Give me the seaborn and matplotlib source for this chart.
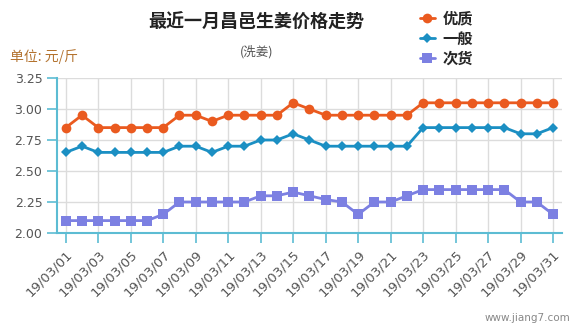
import matplotlib
matplotlib.use("Agg")
import matplotlib.pyplot as plt
import seaborn as sns
import pandas as pd

dates = ["19/03/01", "19/03/02", "19/03/03", "19/03/04", "19/03/05", "19/03/06",
         "19/03/07", "19/03/08", "19/03/09", "19/03/10", "19/03/11", "19/03/12",
         "19/03/13", "19/03/14", "19/03/15", "19/03/16", "19/03/17", "19/03/18",
         "19/03/19", "19/03/20", "19/03/21", "19/03/22", "19/03/23", "19/03/24",
         "19/03/25", "19/03/26", "19/03/27", "19/03/28", "19/03/29", "19/03/30",
         "19/03/31"]
youzhi = [2.85, 2.95, 2.85, 2.85, 2.85, 2.85, 2.85, 2.95, 2.95, 2.90, 2.95, 2.95,
          2.95, 2.95, 3.05, 3.00, 2.95, 2.95, 2.95, 2.95, 2.95, 2.95, 3.05, 3.05,
          3.05, 3.05, 3.05, 3.05, 3.05, 3.05, 3.05]
yiban = [2.65, 2.70, 2.65, 2.65, 2.65, 2.65, 2.65, 2.70, 2.70, 2.65, 2.70, 2.70,
         2.75, 2.75, 2.80, 2.75, 2.70, 2.70, 2.70, 2.70, 2.70, 2.70, 2.85, 2.85,
         2.85, 2.85, 2.85, 2.85, 2.80, 2.80, 2.85]
cihuo = [2.10, 2.10, 2.10, 2.10, 2.10, 2.10, 2.15, 2.25, 2.25, 2.25, 2.25, 2.25,
         2.30, 2.30, 2.33, 2.30, 2.27, 2.25, 2.15, 2.25, 2.25, 2.30, 2.35, 2.35,
         2.35, 2.35, 2.35, 2.35, 2.25, 2.25, 2.15]
series_names = ["优质", "一般", "次货"]
yticks = [2.00, 2.25, 2.50, 2.75, 3.00, 3.25]

colors = {"优质": "#ea5a1f", "一般": "#1b8fc3", "次货": "#7c80e2"}
markers = {"优质": "o", "一般": "D", "次货": "s"}
msizes = {"优质": 7.0, "一般": 5.0, "次货": 6.8}
axis_col = "#5cbcd3"
grid_col = "#dcdcdc"

sns.set_style("white")
plt.rcParams["font.family"] = ["Noto Sans CJK SC", "DejaVu Sans"]

fig = plt.figure(figsize=(5.8, 3.3), dpi=100)
ax = fig.add_axes([57 / 580, 1 - 233 / 330, (562 - 57) / 580, (233 - 78) / 330])

df = pd.DataFrame({"date": dates, "优质": youzhi, "一般": yiban, "次货": cihuo})
for name in series_names:
    sns.lineplot(data=df, x="date", y=name, ax=ax, color=colors[name],
                 marker=markers[name], markersize=msizes[name],
                 markeredgewidth=0, linewidth=2.0, label=name, sort=False)

ax.set_xlim(-0.54, 30.55)
ax.set_ylim(2.0, 3.25)
ax.set_yticks(yticks)
ax.set_yticklabels([f"{v:.2f}" for v in yticks], family="DejaVu Sans",
                   fontsize=9, color="#555555")
ax.set_xticks(range(0, 31, 2))
ax.set_xticklabels(dates[::2], rotation=45, ha="right", rotation_mode="anchor",
                   family="DejaVu Sans", fontsize=9.5, color="#555555")
ax.set_xlabel("")
ax.set_ylabel("")

ax.grid(True, color=grid_col, linewidth=1.0)
ax.set_axisbelow(True)
for s in ["top", "right"]:
    ax.spines[s].set_visible(False)
for s in ["left", "bottom"]:
    ax.spines[s].set_color(axis_col)
    ax.spines[s].set_linewidth(1.5)
ax.tick_params(axis="y", length=7.5, width=1.2, color=axis_col, pad=3, left=True)
ax.tick_params(axis="x", length=7.5, width=1.2, color=axis_col, pad=3, bottom=True)

leg = ax.legend(loc="upper left", bbox_to_anchor=(412 / 580, 1 - 3 / 330),
                bbox_transform=fig.transFigure, frameon=False, handlelength=1.0,
                handletextpad=0.5, labelspacing=0.25, borderpad=0,
                prop={"family": ["Noto Sans CJK SC"], "weight": "bold", "size": 11})

fig.text(256 / 580, 1 - 22 / 330, "最近一月昌邑生姜价格走势", ha="center", va="center",
         fontsize=13, weight="bold", color="#222222")
fig.text(257 / 580, 1 - 52 / 330, "(洗姜)", ha="center", va="center",
         fontsize=9, color="#555555")
fig.text(10 / 580, 1 - 57 / 330, "单位: 元/斤", ha="left", va="center",
         fontsize=10, color="#b3722e")
fig.text(570 / 580, 1 - 318 / 330, "www.jiang7.com", ha="right", va="center",
         fontsize=7.5, color="#888888", family="DejaVu Sans")

fig.savefig("out.png", dpi=100)
